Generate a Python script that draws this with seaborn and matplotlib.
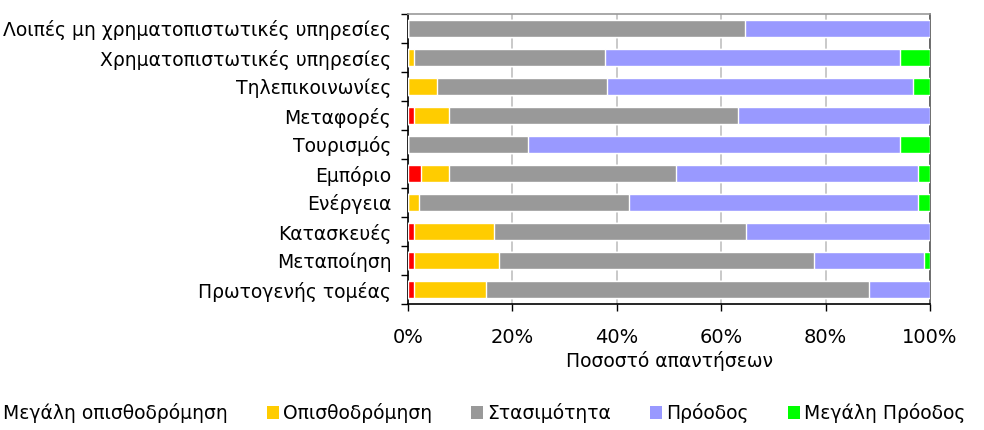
import numpy as np
import pandas as pd
import matplotlib
matplotlib.use('Agg')
import matplotlib.pyplot as plt
import seaborn as sns
from matplotlib.patches import Patch
from matplotlib.ticker import FixedLocator, PercentFormatter

# Data (top to bottom as shown)
sectors = ['Λοιπές μη χρηματοπιστωτικές υπηρεσίες', 'Χρηματοπιστωτικές υπηρεσίες',
           'Τηλεπικοινωνίες', 'Μεταφορές', 'Τουρισμός', 'Εμπόριο', 'Ενέργεια',
           'Κατασκευές', 'Μεταποίηση', 'Πρωτογενής τομέας']
big_decline = [0, 0, 0, 1.1, 0, 2.4, 0, 1.1, 1.1, 1.1]
decline = [0, 1.1, 5.6, 6.8, 0, 5.5, 2.2, 15.3, 16.4, 13.8]
stagnation = [64.6, 36.7, 32.6, 55.3, 22.9, 43.4, 40.2, 48.3, 60.2, 73.5]
progress = [35.4, 56.5, 58.5, 36.8, 71.4, 46.4, 55.3, 35.3, 21.2, 11.6]
big_progress = [0, 5.7, 3.3, 0, 5.7, 2.3, 2.3, 0, 1.1, 0]

series_names = ['Μεγάλη οπισθοδρόμηση', 'Οπισθοδρόμηση', 'Στασιμότητα', 'Πρόοδος', 'Μεγάλη Πρόοδος']
colors = ['#ff0000', '#ffcc00', '#999999', '#9999ff', '#00ff00']

df = pd.DataFrame({'sector': sectors,
                   series_names[0]: big_decline,
                   series_names[1]: decline,
                   series_names[2]: stagnation,
                   series_names[3]: progress,
                   series_names[4]: big_progress})
vals = df[series_names]
pct = vals.div(vals.sum(axis=1), axis=0) * 100
cum = pct.cumsum(axis=1)

sns.set_theme(style='white')
plt.rcParams['font.family'] = ['DejaVu Sans']
plt.rcParams['text.color'] = 'black'
plt.rcParams['axes.labelcolor'] = 'black'
plt.rcParams['xtick.color'] = 'black'
plt.rcParams['ytick.color'] = 'black'

fig = plt.figure(figsize=(9.84, 4.30), dpi=100)
ax = fig.add_axes([408 / 984, 1 - 304 / 430, (930 - 408) / 984, (304 - 14) / 430])

# draw cumulative layers from the longest to the shortest
for name, col in reversed(list(zip(series_names, colors))):
    sns.barplot(x=cum[name], y=df['sector'], orient='h', color=col,
                width=0.6, saturation=1, ax=ax, zorder=3)

ax.set_xlim(0, 100)
ax.set_ylim(len(sectors) - 0.5, -0.5)
ax.xaxis.set_major_locator(FixedLocator([0, 20, 40, 60, 80, 100]))
ax.xaxis.set_major_formatter(PercentFormatter(decimals=0))
ax.grid(axis='x', color='#c0c0c0', linewidth=1.2, zorder=0)
ax.set_axisbelow(True)

ax.set_xlabel('Ποσοστό απαντήσεων', fontsize=13.5, labelpad=3)
ax.set_ylabel('')

# Excel-style ticks between the categories
ax.yaxis.set_minor_locator(FixedLocator(np.arange(-0.5, len(sectors), 1)))
ax.tick_params(axis='y', which='major', length=0, labelsize=13.5, pad=12)
ax.tick_params(axis='y', which='minor', length=5, width=1, color='black', direction='out', left=True)
ax.tick_params(axis='x', which='major', length=5, width=1, color='black', direction='out',
               bottom=True, labelsize=14, pad=12)

for s in ['left', 'bottom']:
    ax.spines[s].set_color('black')
    ax.spines[s].set_linewidth(1.2)
ax.spines['top'].set_color('#999999')
ax.spines['top'].set_linewidth(1.2)
ax.spines['right'].set_color('#555555')
ax.spines['right'].set_linewidth(1.2)

handles = [Patch(facecolor=c, edgecolor='none', label=n) for n, c in zip(series_names, colors)]
fig.legend(handles=handles, loc='center', ncol=5, bbox_to_anchor=(476 / 984, 1 - 413 / 430),
           frameon=False, fontsize=13.5, handlelength=0.65, handleheight=0.65,
           handletextpad=0.2, columnspacing=2.1)

fig.savefig('out.png', dpi=100)
